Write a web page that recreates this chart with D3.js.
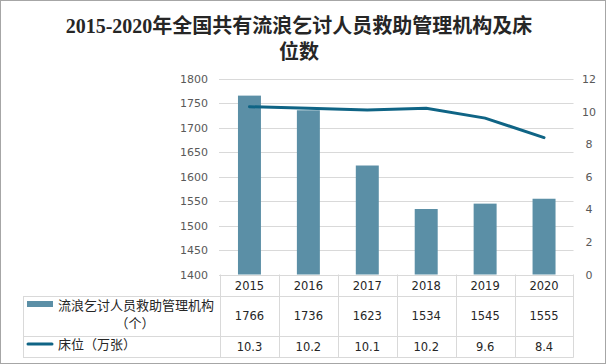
<!DOCTYPE html>
<html><head><meta charset="utf-8">
<script src="https://cdn.jsdelivr.net/npm/d3@7"></script>
<style>body{margin:0;background:#fff}svg{display:block}</style>
</head><body>
<script>
const years = ["2015","2016","2017","2018","2019","2020"];
const agencies = [1766,1736,1623,1534,1545,1555];
const beds = [10.3,10.2,10.1,10.2,9.6,8.4];
const leftTicks = [1400,1450,1500,1550,1600,1650,1700,1750,1800];
const rightTicks = [0,2,4,6,8,10,12];
const seriesNames = ["流浪乞讨人员救助管理机构", "（个）", "床位（万张）"];
const title1 = "2015-2020年全国共有流浪乞讨人员救助管理机构及床";
const title2 = "位数";

const W=606,H=364;
const svg=d3.select("body").append("svg").attr("width",W).attr("height",H);
svg.append("rect").attr("x",0.5).attr("y",0.5).attr("width",W-1).attr("height",H-1).attr("fill","#fff").attr("stroke","#a6a6a6");

const x=d3.scaleBand().domain(years).range([220,573.5]).paddingInner(0.61).paddingOuter(0.305);
const xc=d3.scaleBand().domain(years).range([220,573.5]);
const yL=d3.scaleLinear().domain([1400,1800]).range([274.5,79]);
const yR=d3.scaleLinear().domain([0,12]).range([274.5,79]);

// title
const tf='"Liberation Serif","Noto Sans CJK SC",serif';
svg.append("text").attr("x",299).attr("y",33).attr("text-anchor","middle").attr("font-family",tf).attr("font-weight","bold").attr("font-size",20).attr("fill","#262626").text(title1);
svg.append("text").attr("x",299).attr("y",59).attr("text-anchor","middle").attr("font-family",tf).attr("font-weight","bold").attr("font-size",20).attr("fill","#262626").text(title2);

// grid
svg.append("g").selectAll("line").data(leftTicks).join("line")
 .attr("x1",219).attr("x2",573.5).attr("y1",d=>Math.round(yL(d))+0.5).attr("y2",d=>Math.round(yL(d))+0.5)
 .attr("stroke","#d9d9d9");

// axes
const af='"DejaVu Sans",sans-serif';
const gL=svg.append("g").attr("transform","translate(214,0)").call(d3.axisLeft(yL).tickValues(leftTicks).tickFormat(d3.format("d")).tickSize(0).tickPadding(0));
gL.select(".domain").remove();
gL.selectAll("text").attr("font-family",af).attr("font-size",11).attr("fill","#595959").attr("x",-6);
const gR=svg.append("g").attr("transform","translate(582,0)").call(d3.axisRight(yR).tickValues(rightTicks).tickFormat(d3.format("d")).tickSize(0).tickPadding(0));
gR.select(".domain").remove();
gR.selectAll("text").attr("font-family",af).attr("font-size",11).attr("fill","#595959").attr("text-anchor","middle").attr("x",7);

// bars
svg.append("g").selectAll("rect").data(agencies).join("rect")
 .attr("x",(d,i)=>x(years[i])).attr("width",x.bandwidth())
 .attr("y",d=>yL(d)).attr("height",d=>yL(1400)-yL(d)).attr("fill","#5b8fa6");

// line
const line=d3.line().x((d,i)=>xc(years[i])+xc.bandwidth()/2).y(d=>yR(d));
svg.append("path").datum(beds).attr("d",line).attr("fill","none").attr("stroke","#0f6485").attr("stroke-width",3).attr("stroke-linecap","round");

// table
const tg=svg.append("g");
const gc="#d9d9d9";
tg.append("line").attr("x1",23).attr("x2",573.5).attr("y1",296.5).attr("y2",296.5).attr("stroke",gc);
tg.append("line").attr("x1",23).attr("x2",573.5).attr("y1",336.5).attr("y2",336.5).attr("stroke",gc);
tg.append("line").attr("x1",23).attr("x2",573.5).attr("y1",357.5).attr("y2",357.5).attr("stroke",gc);
tg.append("line").attr("x1",23.5).attr("x2",23.5).attr("y1",296.5).attr("y2",357.5).attr("stroke",gc);
const vx=years.map(y=>Math.round(xc(y))+0.5).concat([573.5]);
tg.selectAll("line.v").data(vx).join("line").attr("class","v")
 .attr("x1",d=>d).attr("x2",d=>d).attr("y1",274.5).attr("y2",357.5).attr("stroke",gc);

const cf='"DejaVu Sans","Noto Sans CJK SC",sans-serif';
tg.selectAll("text.yr").data(years).join("text").attr("class","yr")
 .attr("x",d=>xc(d)+xc.bandwidth()/2).attr("y",290).attr("text-anchor","middle")
 .attr("font-family",cf).attr("font-size",11.5).attr("fill","#262626").text(d=>d);
tg.selectAll("text.a").data(agencies).join("text").attr("class","a")
 .attr("x",(d,i)=>xc(years[i])+xc.bandwidth()/2).attr("y",320).attr("text-anchor","middle")
 .attr("font-family",cf).attr("font-size",11.5).attr("fill","#262626").text(d=>d);
tg.selectAll("text.b").data(beds).join("text").attr("class","b")
 .attr("x",(d,i)=>xc(years[i])+xc.bandwidth()/2).attr("y",351).attr("text-anchor","middle")
 .attr("font-family",cf).attr("font-size",11.5).attr("fill","#262626").text(d=>d.toFixed(1));

// legend
const lf='"Noto Sans CJK SC",sans-serif';
tg.append("rect").attr("x",27).attr("y",301).attr("width",26).attr("height",6).attr("fill","#5b8fa6");
tg.append("text").attr("x",58).attr("y",310).attr("font-family",lf).attr("font-size",13).attr("fill","#262626").text(seriesNames[0]);
tg.append("text").attr("x",135).attr("y",328).attr("text-anchor","middle").attr("font-family",lf).attr("font-size",13).attr("fill","#262626").text(seriesNames[1]);
tg.append("line").attr("x1",28).attr("x2",52).attr("y1",344).attr("y2",344).attr("stroke","#0f6485").attr("stroke-width",3).attr("stroke-linecap","round");
tg.append("text").attr("x",58).attr("y",349).attr("font-family",lf).attr("font-size",13).attr("fill","#262626").text(seriesNames[2]);
</script>
</body></html>
